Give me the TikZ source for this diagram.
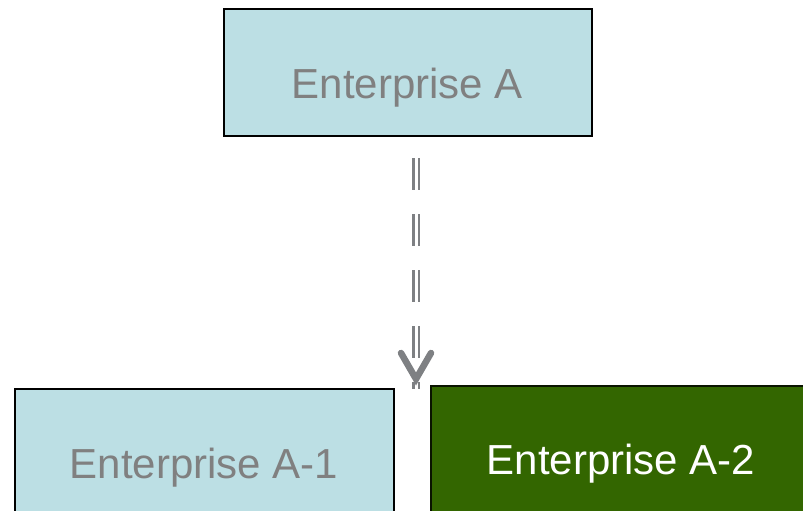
\documentclass[tikz,border=0pt]{standalone}
\usepackage{fontspec}
\setmainfont{Liberation Sans}
\definecolor{boxblue}{HTML}{BCDFE4}
\definecolor{boxgreen}{HTML}{336600}
\definecolor{labelgray}{HTML}{808080}
\definecolor{arrowgray}{HTML}{7E8083}
\tikzset{
  entbox/.style={draw=black, line width=1.4pt, inner sep=0pt, fill=boxblue},
  entgreen/.style={entbox, fill=boxgreen, draw=black!80!boxgreen},
  entlabel/.style={anchor=base, inner sep=0pt, font=\fontsize{42}{50}\selectfont, text=labelgray},
  dbllink/.style={draw=arrowgray, line width=2.3pt, double=white, double distance=3pt,
                  dash pattern=on 32pt off 24pt},
  chevron/.style={draw=arrowgray, line width=6.5pt, line cap=round, line join=miter}
}
\begin{document}
\begin{tikzpicture}[x=1pt, y=-1pt]
  \useasboundingbox (0,0) rectangle (803,511);
  \clip (0,0) rectangle (803,511);
  \fill[white] (0,0) rectangle (803,511);

  % boxes
  \node[entbox, minimum width=368pt, minimum height=127pt] (entA) at (408,72.5) {};
  \node[entbox, minimum width=379pt, minimum height=140pt] (entA1) at (204.5,459) {};
  \node[entgreen, minimum width=380pt, minimum height=144pt] (entA2) at (621,458) {};

  % labels
  \node[entlabel] (labA) at (407.5,99) {Enterprise A};
  \node[entlabel] (labA1) at (204,478) {Enterprise A-1};
  \node[entlabel, text=white] (labA2) at (621,474) {Enterprise A-2};

  % dashed double link with open arrowhead
  \coordinate (linkstart) at (416,158);
  \coordinate (tip) at (416,379);
  \draw[dbllink] (linkstart) -- ([yshift=-10pt]tip);
  \draw[chevron] ([shift={(-15,-26)}]tip) -- (tip) -- ([shift={(15,-26)}]tip);
\end{tikzpicture}
\end{document}
